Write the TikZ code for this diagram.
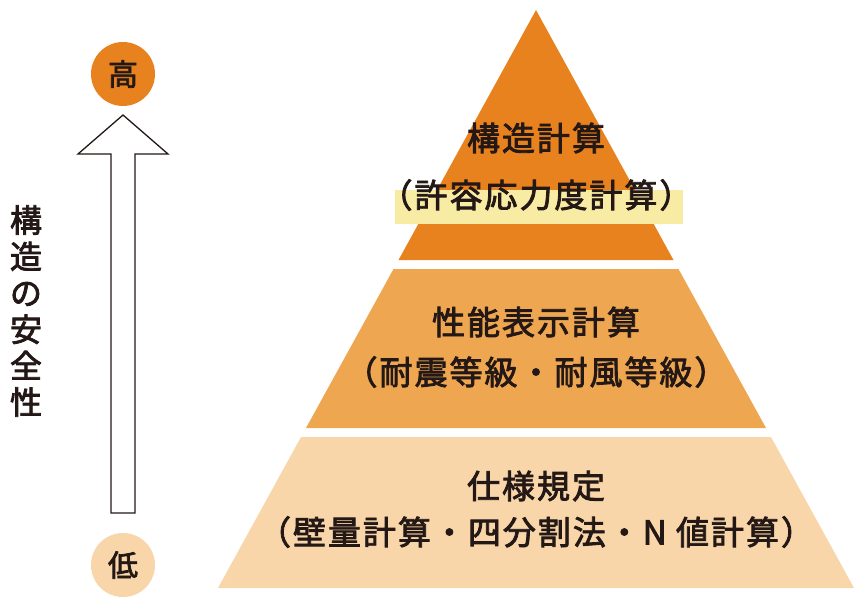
\documentclass[tikz,border=0pt]{standalone}
\usepackage{fontspec}
\newfontfamily\jp{Noto Sans CJK JP}[LetterSpace=6,FakeBold=2.5]
\newfontfamily\jpv{Noto Sans CJK JP}[FakeBold=2.5]
\definecolor{topor}{RGB}{232,130,30}
\definecolor{midor}{RGB}{238,167,80}
\definecolor{lowor}{RGB}{248,214,170}
\definecolor{band}{RGB}{248,236,165}
\definecolor{ink}{RGB}{35,24,21}
\begin{document}
\begin{tikzpicture}[x=1pt,y=-1pt,
  lbl/.style={font=\jp\fontsize{33}{40}\selectfont, text=ink, inner sep=0pt, anchor=center},
  dot/.style={circle, minimum size=64pt, inner sep=0pt, text=ink, font=\jpv\fontsize{30}{34}\selectfont},
  arrowline/.style={draw=ink, line width=1.3pt, fill=white, line join=miter}]
\useasboundingbox (0,0) rectangle (867,603);
% pyramid layers
\fill[topor] (536,10) -- (673.5,260) -- (398.5,260) -- cycle;
\fill[band] (395,190) rectangle (683,224);
\fill[midor] (393.5,269) -- (678.5,269) -- (766,428) -- (306,428) -- cycle;
\fill[lowor] (301,437) -- (771,437) -- (854,588) -- (218,588) -- cycle;
% labels
\node[lbl] (t1) at (536,138) {構造計算};
\node[lbl] (t2) at (536,195) {（許容応力度計算）};
\node[lbl] (m1) at (536,322) {性能表示計算};
\node[lbl] (m2) at (536,372) {（耐震等級・耐風等級）};
\node[lbl] (b1) at (536,486) {仕様規定};
\node[lbl] (b2) at (536,532) {（壁量計算・四分割法・N 値計算）};
% axis
\node[dot, fill=topor] (hi) at (123,74) {高};
\node[dot, fill=lowor] (lo) at (123,565) {低};
\coordinate (tip) at (123,115);
\draw[arrowline] (tip) -- (168,154) -- (135,154) -- (135,513) -- (111,513) -- (111,154) -- (78,154) -- cycle;
\node[text=ink, inner sep=0pt, align=center, font=\jpv\fontsize{32}{36.4}\selectfont] (axis) at (26,311) {構\\造\\の\\安\\全\\性};
\end{tikzpicture}
\end{document}
